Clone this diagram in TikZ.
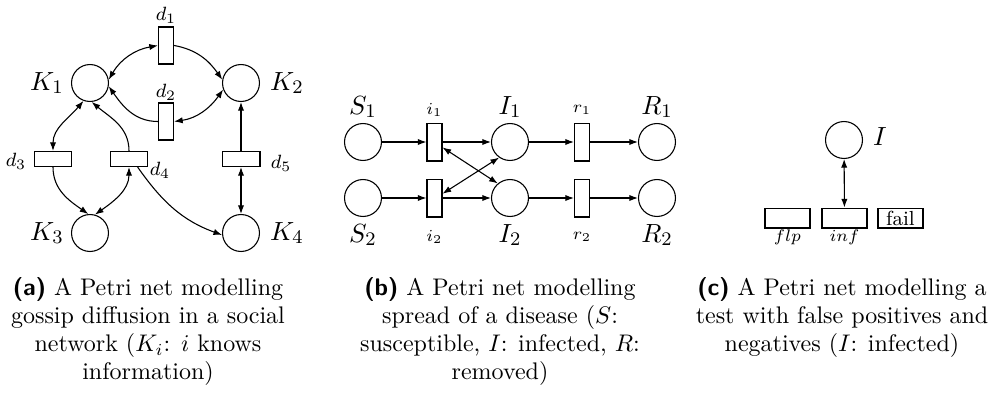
\documentclass[tikz,border=0pt]{standalone}
\usetikzlibrary{arrows.meta}
\begin{document}
\begin{tikzpicture}[x=0.4167pt,y=0.4167pt,
  line width=0.45pt,
  >={Latex[length=3.6pt,width=2.6pt]},
  place/.style={draw,circle,minimum size=15.4pt,inner sep=0pt},
  vtrans/.style={draw,rectangle,minimum width=6.25pt,minimum height=15.4pt,inner sep=0pt},
  htrans/.style={draw,rectangle,minimum width=15.8pt,minimum height=6.25pt,inner sep=0pt},
  btrans/.style={draw,rectangle,minimum width=6.25pt,minimum height=15.8pt,inner sep=0pt},
  ctrans/.style={draw,rectangle,minimum width=18.75pt,minimum height=8.3pt,inner sep=0pt,font=\fontsize{8.5}{10}\selectfont},
  biglbl/.style={inner sep=0pt,font=\fontsize{11}{13}\selectfont},
  smalllbl/.style={inner sep=0pt,font=\footnotesize},
  clbl/.style={inner sep=0pt,font=\fontsize{7.5}{9}\selectfont},
  tinylbl/.style={inner sep=0pt,font=\scriptsize},
  caption/.style={inner sep=0pt,anchor=north,align=center,font=\fontsize{10}{11.7}\selectfont}
]
\useasboundingbox (0,0) rectangle (993,394);
% ---------- (a) ----------
\node[place] (K1) at (90,311) {};
\node[place] (K2) at (241,311) {};
\node[place] (K3) at (90,161) {};
\node[place] (K4) at (241,161) {};
\node[vtrans] (d1) at (166,348.5) {};
\node[vtrans] (d2) at (166,272.5) {};
\node[htrans] (d3) at (53,235) {};
\node[htrans] (d4) at (129,235) {};
\node[htrans] (d5) at (241,235) {};
\node[biglbl] (lK1) at (47,311) {$K_1$};
\node[biglbl] (lK2) at (287,311) {$K_2$};
\node[biglbl] (lK3) at (47,161) {$K_3$};
\node[biglbl] (lK4) at (287,161) {$K_4$};
\node[smalllbl] (ld1) at (166,379) {$d_1$};
\node[smalllbl] (ld2) at (166,302) {$d_2$};
\node[smalllbl] (ld3) at (16,233) {$d_3$};
\node[smalllbl] (ld4) at (160,224) {$d_4$};
\node[smalllbl] (ld5) at (281,231) {$d_5$};
\draw[<->] (d1.west) to[out=190,in=60] (K1.10);
\draw[->] (d1.east) to[out=-10,in=125] (K2.170);
\draw[<->] (d2.east) to[out=8,in=235] (K2.200);
\draw[->] (d2.west) to[out=180,in=-55] (K1.-10);
\draw[<->] (d3.north) to[out=90,in=230] (K1.-110);
\draw[->] (d4.north) to[out=90,in=-40] (K1.-85);
\draw[->] (d3.south) to[out=-90,in=145] (K3.95);
\draw[<->] (d4.south) to[out=-90,in=35] (K3.75);
\draw[->] (d4.-43) to[out=-55,in=160] (K4.186);
\draw[->] (d5) -- (K2);
\draw[<->] (d5) -- (K4);
% ---------- (b) ----------
\node[place] (S1) at (363,252) {};
\node[place] (S2) at (363,196) {};
\node[btrans] (i1) at (434.5,252) {};
\node[btrans] (i2) at (434.5,196) {};
\node[place] (I1) at (510,252) {};
\node[place] (I2) at (510,196) {};
\node[btrans] (r1) at (582,252) {};
\node[btrans] (r2) at (582,196) {};
\node[place] (R1) at (657,252) {};
\node[place] (R2) at (657,196) {};
\node[biglbl] (lS1) at (363,287) {$S_1$};
\node[biglbl] (lI1) at (510,287) {$I_1$};
\node[biglbl] (lR1) at (657,287) {$R_1$};
\node[biglbl] (lS2) at (363,159) {$S_2$};
\node[biglbl] (lI2) at (510,159) {$I_2$};
\node[biglbl] (lR2) at (657,159) {$R_2$};
\node[tinylbl] (li1) at (434.5,284) {$i_1$};
\node[tinylbl] (lr1) at (582,284) {$r_1$};
\node[tinylbl] (li2) at (434.5,157) {$i_2$};
\node[tinylbl] (lr2) at (582,157) {$r_2$};
\draw[->] (S1) -- (i1);
\draw[->] (i1) -- (I1);
\draw[->] (I1) -- (r1);
\draw[->] (r1) -- (R1);
\draw[->] (S2) -- (i2);
\draw[->] (i2) -- (I2);
\draw[->] (I2) -- (r2);
\draw[->] (r2) -- (R2);
\draw[<->] (i1.-34) -- (I2.130);
\draw[<->] (i2.28) -- (I1.235);
% ---------- (c) ----------
\node[place] (I) at (844,254) {};
\node[biglbl] (lI) at (880,257) {$I$};
\node[ctrans] (flp) at (787.5,176) {};
\node[ctrans] (inf) at (844.5,176) {};
\node[ctrans] (fail) at (900.5,176) {fail};
\node[clbl] (lflp) at (787.5,157) {$flp$};
\node[clbl] (linf) at (844.5,157) {$inf$};
\draw[<->] (I) -- (inf);
% ---------- captions ----------
\node[caption] (capa) at (148,117) {\textsf{\bfseries (a)} A Petri net modelling\\ gossip diffusion in a social\\ network ($K_i$: $i$ knows\\ information)};
\node[caption] (capb) at (500,117) {\textsf{\bfseries (b)} A Petri net modelling\\ spread of a disease ($S$:\\ susceptible, $I$: infected, $R$:\\ removed)};
\node[caption] (capc) at (842,117) {\textsf{\bfseries (c)} A Petri net modelling a\\ test with false positives and\\ negatives ($I$: infected)};
\end{tikzpicture}
\end{document}
